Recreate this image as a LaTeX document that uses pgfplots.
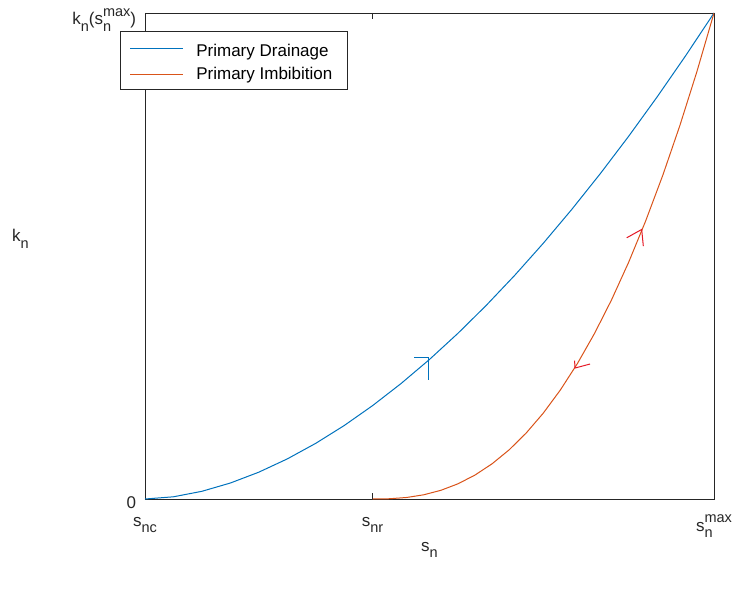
\documentclass[border=0pt]{standalone}
\usepackage{fontspec}
\setmainfont{Liberation Sans}
\usepackage{pgfplots}
\pgfplotsset{compat=1.18}
\definecolor{mblue}{rgb}{0,0.447,0.741}
\definecolor{morange}{rgb}{0.85,0.325,0.098}
\definecolor{mred}{rgb}{0.9,0.1,0.15}
\definecolor{axgray}{rgb}{0.15,0.15,0.15}
\newcommand{\sbs}[1]{\raisebox{-6.5pt}{\fontsize{14.5}{15}\selectfont #1}}
\newcommand{\sps}[1]{\smash{\raisebox{8.5pt}{\fontsize{14.5}{15}\selectfont #1}}}
\newcommand{\sbsp}[2]{\rlap{\sbs{#1}}\sps{#2}}
\begin{document}
\begin{tikzpicture}
\fontsize{17}{20}\selectfont
\useasboundingbox (-145pt,-91pt) rectangle (590pt,499pt);
\begin{axis}[
  at={(0,0)}, anchor=south west,
  scale only axis, width=569pt, height=486pt,
  xmin=0, xmax=1, ymin=0, ymax=1,
  xtick={0,0.4,1}, ytick={0,1},
  xticklabels={s\sbs{nc}, s\sbs{nr}, \raisebox{-5pt}{s\sbsp{n}{max}}},
  yticklabels={0, \raisebox{-3pt}{k\sbs{n}(s\sbsp{n}{max})}},
  tick align=inside, major tick length=6pt,
  axis line style={axgray, line width=0.8pt},
  tick style={axgray, line width=0.8pt},
  ticklabel style={font=\fontsize{17}{20}\selectfont, text=axgray},
  xticklabel style={anchor=base, yshift=-27pt},
  yticklabel style={anchor=base east, yshift=-9pt, xshift=-3pt},
  label style={font=\fontsize{17}{20}\selectfont, text=axgray},
  xlabel={s\sbs{n}},
  xlabel style={at={(axis description cs:0.5,-0.108)}, anchor=base},
  ylabel={k\sbs{n}},
  ylabel style={at={(axis description cs:-0.234,0.529)}, rotate=-90, anchor=base west, inner sep=0pt},
  legend style={at={(axis description cs:-0.044,0.963)}, anchor=north west,
    draw=axgray, line width=0.8pt, fill=white, font=\fontsize{17}{20}\selectfont,
    inner xsep=4pt, inner ysep=5pt, row sep=4pt, cells={anchor=west}},
  legend image code/.code={\path[draw=none] (0pt,0pt) -- (70pt,0pt); \draw[#1] (6pt,0pt) -- (59pt,0pt);},
  legend cell align=left,
]
\addplot[mblue, line width=1pt] coordinates {
(0,0) (0.05,0.00455) (0.1,0.01585) (0.15,0.03289) (0.2,0.05519) (0.25,0.08247)
(0.3,0.11450) (0.35,0.15110) (0.4,0.19218) (0.45,0.23759) (0.5,0.28717)
(0.55,0.34093) (0.6,0.39874) (0.65,0.46053) (0.7,0.52625) (0.75,0.59583)
(0.8,0.66920) (0.85,0.74635) (0.9,0.82724) (0.95,0.91183) (1,1)};
\addlegendentry{\rule{0pt}{18.5pt}Primary Drainage}
\addplot[morange, line width=1pt] coordinates {
(0.4,0) (0.43,0.000559) (0.46,0.00316) (0.49,0.008714) (0.52,0.01789) (0.55,0.03125)
(0.58,0.04930) (0.61,0.07247) (0.64,0.10119) (0.67,0.13584) (0.70,0.17678)
(0.73,0.22434) (0.76,0.27885) (0.79,0.34063) (0.82,0.40997) (0.85,0.48714)
(0.88,0.57243) (0.91,0.66611) (0.94,0.76843) (0.97,0.87964) (1,1)};
\addlegendentry{Primary Imbibition\kern9pt}
% arrow heads
\addplot[mblue, line width=1pt, forget plot] coordinates {(0.4728,0.2907) (0.4974,0.2907) (0.4974,0.2454)};
\addplot[mred, line width=1pt, forget plot] coordinates {(0.8466,0.5375) (0.8729,0.5546) (0.8758,0.5202)};
\addplot[mred, line width=1pt, forget plot] coordinates {(0.7550,0.2846) (0.7557,0.2695) (0.7821,0.2777)};
\end{axis}
\end{tikzpicture}
\end{document}
